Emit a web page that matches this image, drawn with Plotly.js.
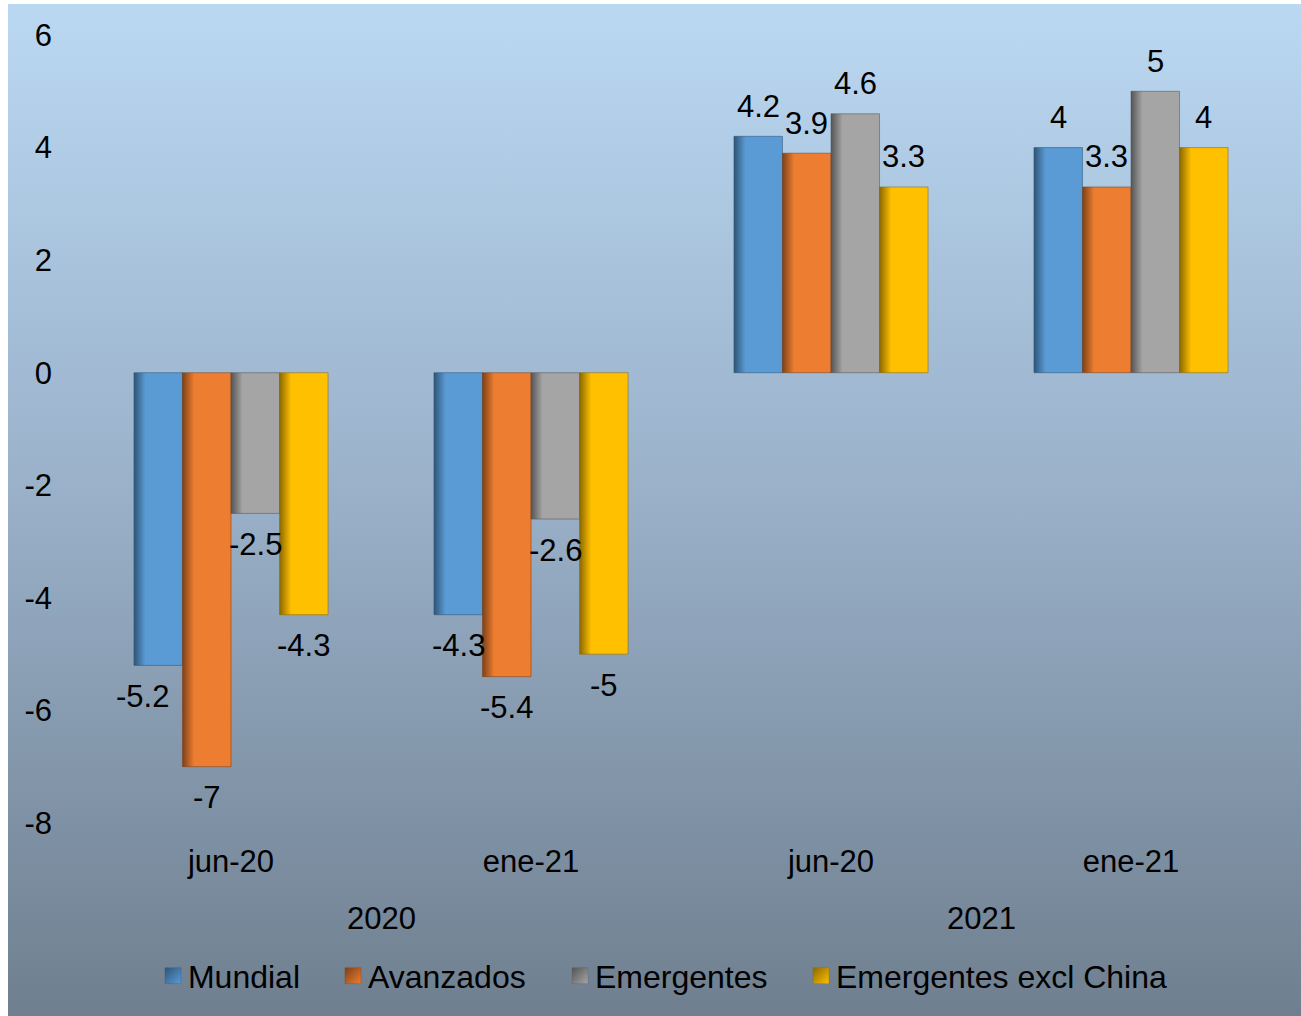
<!DOCTYPE html>
<html>
<head>
<meta charset="utf-8">
<script src="https://cdn.plot.ly/plotly-3.0.1.min.js"></script>
<style>
  html, body { margin: 0; padding: 0; background: #ffffff; }
  #chart {
    position: absolute; left: 8px; top: 4px; width: 1293px; height: 1012px;
    background: linear-gradient(to bottom, #bbd8f2 0%, #98afc7 50%, #6f7f8f 100%);
  }
</style>
</head>
<body>
<div id="chart"></div>
<script>
// ---- data ----
const years = ['2020', '2020', '2021', '2021'];
const periods = ['jun-20', 'ene-21', 'jun-20', 'ene-21'];
const seriesNames = ['Mundial', 'Avanzados', 'Emergentes', 'Emergentes excl China'];
const mundial = [-5.2, -4.3, 4.2, 4.0];
const avanzados = [-7.0, -5.4, 3.9, 3.3];
const emergentes = [-2.5, -2.6, 4.6, 5.0];
const emergentesExclChina = [-4.3, -5.0, 3.3, 4.0];
const yTickVals = [-8, -6, -4, -2, 0, 2, 4, 6];

// ---- styles ----
const seriesValues = [mundial, avanzados, emergentes, emergentesExclChina];
const colors = ['#5b9bd5', '#ed7d31', '#a5a5a5', '#ffc000'];
const darks = ['#2e5577', '#7d4018', '#555555', '#8a6800'];
const edge = ['rgba(46,85,119,0.55)', 'rgba(125,64,24,0.55)', 'rgba(85,85,85,0.55)', 'rgba(138,104,0,0.55)'];
const FONT = 'Liberation Sans, Arial, sans-serif';
const FS = 31;
const BARGAP = 0.353;
// label nudges (style only): series index, category index -> px
const labelXShift = { '0-0': -16 };
// legend entry left positions in paper fraction (style)
const legendX = [0.0558, 0.2058, 0.3950, 0.5958];

const catKeys = years.map((y, i) => y + ' ' + periods[i]);

const traces = seriesValues.map((vals, i) => ({
  type: 'bar',
  name: seriesNames[i],
  x: catKeys,
  y: vals,
  legend: i === 0 ? 'legend' : 'legend' + (i + 1),
  marker: { color: colors[i], line: { color: edge[i], width: 1 } },
  hovertemplate: '%{y}<extra>' + seriesNames[i] + '</extra>'
}));

const groupW = 1 - BARGAP;
const barW = groupW / seriesValues.length;
const annotations = [];
seriesValues.forEach((vals, i) => {
  vals.forEach((v, j) => {
    annotations.push({
      xref: 'x', yref: 'y',
      x: j + (i - (seriesValues.length - 1) / 2) * barW,
      y: v,
      text: String(v),
      showarrow: false,
      xanchor: 'center', yanchor: 'middle',
      xshift: labelXShift[i + '-' + j] || 0,
      yshift: v >= 0 ? 30 : -31,
      font: { family: FONT, size: FS, color: '#000000' }
    });
  });
});
// outer category level (years), centred under their periods
[...new Set(years)].forEach(yr => {
  const idx = years.map((y, i) => (y === yr ? i : null)).filter(v => v !== null);
  annotations.push({
    xref: 'x', yref: 'paper',
    x: idx.reduce((a, b) => a + b, 0) / idx.length,
    y: -0.1206,
    text: yr,
    showarrow: false,
    xanchor: 'center', yanchor: 'middle',
    font: { family: FONT, size: FS, color: '#000000' }
  });
});

const legendBase = {
  orientation: 'h', xanchor: 'left', y: -0.194, yanchor: 'middle',
  font: { family: FONT, size: 32, color: '#000000' },
  bgcolor: 'rgba(0,0,0,0)', borderwidth: 0, itemwidth: 30
};

const layout = {
  width: 1293, height: 1012,
  paper_bgcolor: 'rgba(0,0,0,0)',
  plot_bgcolor: 'rgba(0,0,0,0)',
  margin: { l: 73, r: 20, t: 31, b: 193, pad: 0 },
  barmode: 'group',
  bargap: BARGAP,
  bargroupgap: 0,
  font: { family: FONT, size: FS, color: '#000000' },
  showlegend: true,
  legend: Object.assign({}, legendBase, { x: legendX[0] }),
  legend2: Object.assign({}, legendBase, { x: legendX[1] }),
  legend3: Object.assign({}, legendBase, { x: legendX[2] }),
  legend4: Object.assign({}, legendBase, { x: legendX[3] }),
  xaxis: {
    type: 'category',
    tickmode: 'array',
    tickvals: catKeys,
    ticktext: periods,
    showgrid: false, zeroline: false, showline: false,
    ticks: 'outside', ticklen: 11, tickcolor: 'rgba(0,0,0,0)',
    tickfont: { family: FONT, size: FS, color: '#000000' }
  },
  yaxis: {
    range: [-8, 6],
    tickvals: yTickVals,
    ticktext: yTickVals.map(String),
    showgrid: false, zeroline: false, showline: false,
    ticks: '', ticklabelstandoff: 28,
    tickfont: { family: FONT, size: FS, color: '#000000' }
  },
  annotations: annotations
};

Plotly.newPlot('chart', traces, layout, { displayModeBar: false, staticPlot: true }).then(gd => {
  const NS = 'http://www.w3.org/2000/svg';
  const svg = gd.querySelector('.main-svg');
  const defs = document.createElementNS(NS, 'defs');
  colors.forEach((c, i) => {
    const g = document.createElementNS(NS, 'linearGradient');
    g.setAttribute('id', 'barGrad' + i);
    g.setAttribute('x1', '0'); g.setAttribute('x2', '1');
    g.setAttribute('y1', '0'); g.setAttribute('y2', '0');
    [[0, darks[i]], [0.24, c], [1, c]].forEach(([o, col]) => {
      const s = document.createElementNS(NS, 'stop');
      s.setAttribute('offset', o); s.setAttribute('stop-color', col);
      g.appendChild(s);
    });
    defs.appendChild(g);
    const lg = document.createElementNS(NS, 'linearGradient');
    lg.setAttribute('id', 'legGrad' + i);
    lg.setAttribute('x1', '0'); lg.setAttribute('x2', '1');
    lg.setAttribute('y1', '0'); lg.setAttribute('y2', '1');
    [[0, darks[i]], [1, c]].forEach(([o, col]) => {
      const s = document.createElementNS(NS, 'stop');
      s.setAttribute('offset', o); s.setAttribute('stop-color', col);
      lg.appendChild(s);
    });
    defs.appendChild(lg);
  });
  svg.insertBefore(defs, svg.firstChild);
  gd.querySelectorAll('.barlayer .trace').forEach((tr, i) => {
    tr.querySelectorAll('.point path').forEach(p => { p.style.fill = 'url(#barGrad' + i + ')'; });
  });
  const legendIds = ['legend', 'legend2', 'legend3', 'legend4'];
  legendIds.forEach((id, i) => {
    gd.querySelectorAll('.' + id + ' .legendpoints path').forEach(p => {
      p.setAttribute('d', 'M13,8H-3V-8H13Z');
      p.style.fill = 'url(#legGrad' + i + ')';
      p.style.stroke = edge[i];
      p.style.strokeWidth = '1px';
    });
  });
});
</script>
</body>
</html>
